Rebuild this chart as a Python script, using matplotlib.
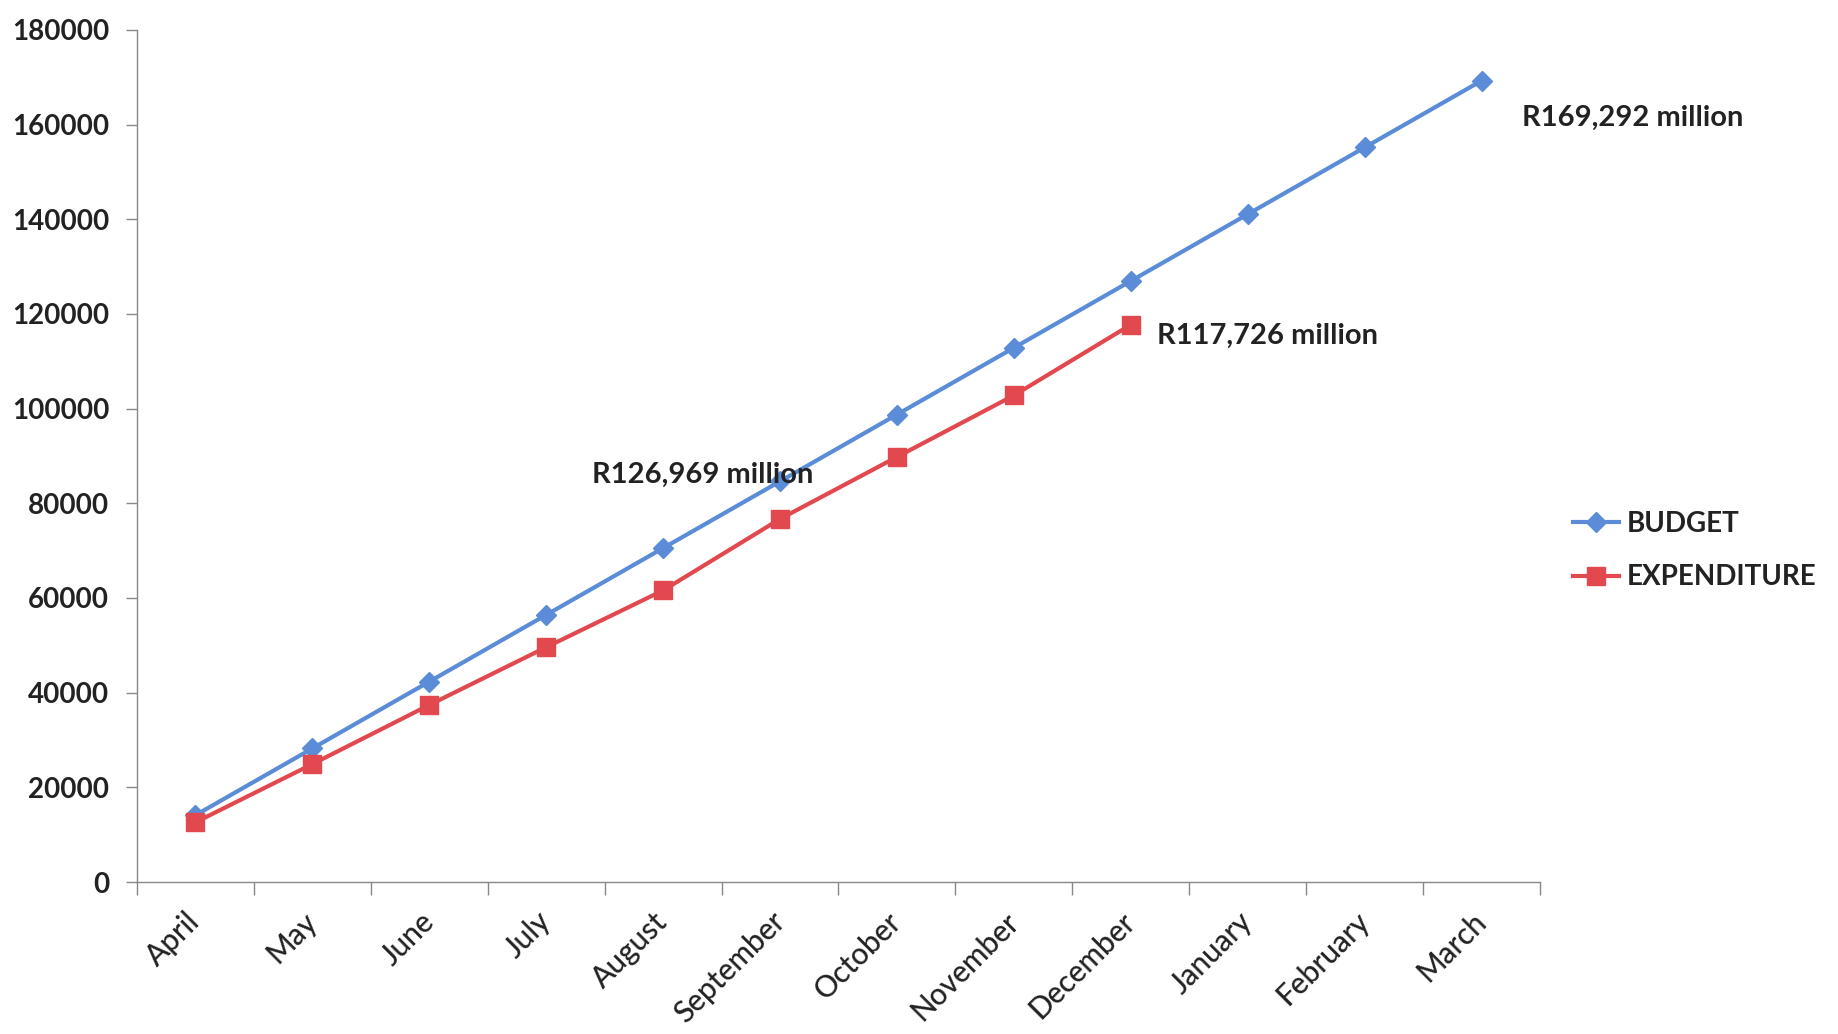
import matplotlib
matplotlib.use("Agg")
import matplotlib.pyplot as plt
from matplotlib.transforms import ScaledTranslation

# monthly cumulative figures (R million)
months = ['April', 'May', 'June', 'July', 'August', 'September', 'October',
          'November', 'December', 'January', 'February', 'March']
budget = [14108, 28215, 42323, 56431, 70538, 84646, 98754, 112861,
          126969, 141077, 155185, 169292]
expenditure = [12600, 24900, 37400, 49600, 61600, 76700, 89800, 102800,
               117726]
y_ticks = [0, 20000, 40000, 60000, 80000, 100000, 120000, 140000, 160000,
           180000]

blue = '#5b8cd8'
red = '#e2494f'
ink = '#222222'

plt.rcParams['font.family'] = ['Lato', 'DejaVu Sans']

fig = plt.figure(figsize=(18.38, 10.34), dpi=100)
ax = fig.add_axes([0.0745, 0.147, 0.7634, 0.824])

x = list(range(len(months)))
ax.plot(x, budget, color=blue, lw=3, marker='D', ms=10, mec=blue,
        mfc=blue, label='BUDGET', zorder=3)
ax.plot(x[:len(expenditure)], expenditure, color=red, lw=3, marker='s',
        ms=13, mec=red, mfc=red, label='EXPENDITURE', zorder=4)

ax.set_xlim(-0.5, len(months) - 0.5)
ax.set_ylim(0, 180000)

# y axis
ax.set_yticks(y_ticks)
ax.set_yticklabels([str(v) for v in y_ticks], fontsize=20,
                   fontweight='bold', color=ink)
ax.tick_params(axis='y', direction='out', length=8, width=1,
               color='#888888', pad=12)

# x axis: labels at category centres, ticks between categories
ax.set_xticks(x)
ax.set_xticklabels(months, rotation=45, ha='right', rotation_mode='anchor',
                   fontsize=21.5, fontweight='medium', color=ink)
ax.tick_params(axis='x', which='major', length=0, pad=18)
shift = ScaledTranslation(-7 / 72, 0, fig.dpi_scale_trans)
for lab in ax.get_xticklabels():
    lab.set_transform(lab.get_transform() + shift)
ax.set_xticks([i - 0.5 for i in range(len(months) + 1)], minor=True)
ax.tick_params(axis='x', which='minor', direction='out', length=9,
               width=1, color='#888888')

for side in ['top', 'right']:
    ax.spines[side].set_visible(False)
for side in ['left', 'bottom']:
    ax.spines[side].set_color('#888888')
    ax.spines[side].set_linewidth(1)

# value labels
ax.annotate('R126,969 million', xy=(5, budget[5]), xytext=(-56, 5),
            textcoords='offset points', ha='center', va='center',
            fontsize=21, fontweight='bold', color=ink, zorder=5)
ax.annotate('R117,726 million', xy=(8, expenditure[8]), xytext=(19, -8),
            textcoords='offset points', ha='left', va='center',
            fontsize=21, fontweight='bold', color=ink)
ax.annotate('R169,292 million', xy=(11, budget[11]), xytext=(29, -27),
            textcoords='offset points', ha='left', va='center',
            fontsize=21, fontweight='bold', color=ink,
            annotation_clip=False)

fig.legend(loc='center left', bbox_to_anchor=(0.8558, 0.4675),
           frameon=False, prop={'weight': 'bold', 'size': 20},
           handlelength=1.65, handletextpad=0.3, labelspacing=1.0,
           borderpad=0, borderaxespad=0)
for t in fig.legends[0].get_texts():
    t.set_color(ink)

fig.savefig('out.png', dpi=100, facecolor='white')
